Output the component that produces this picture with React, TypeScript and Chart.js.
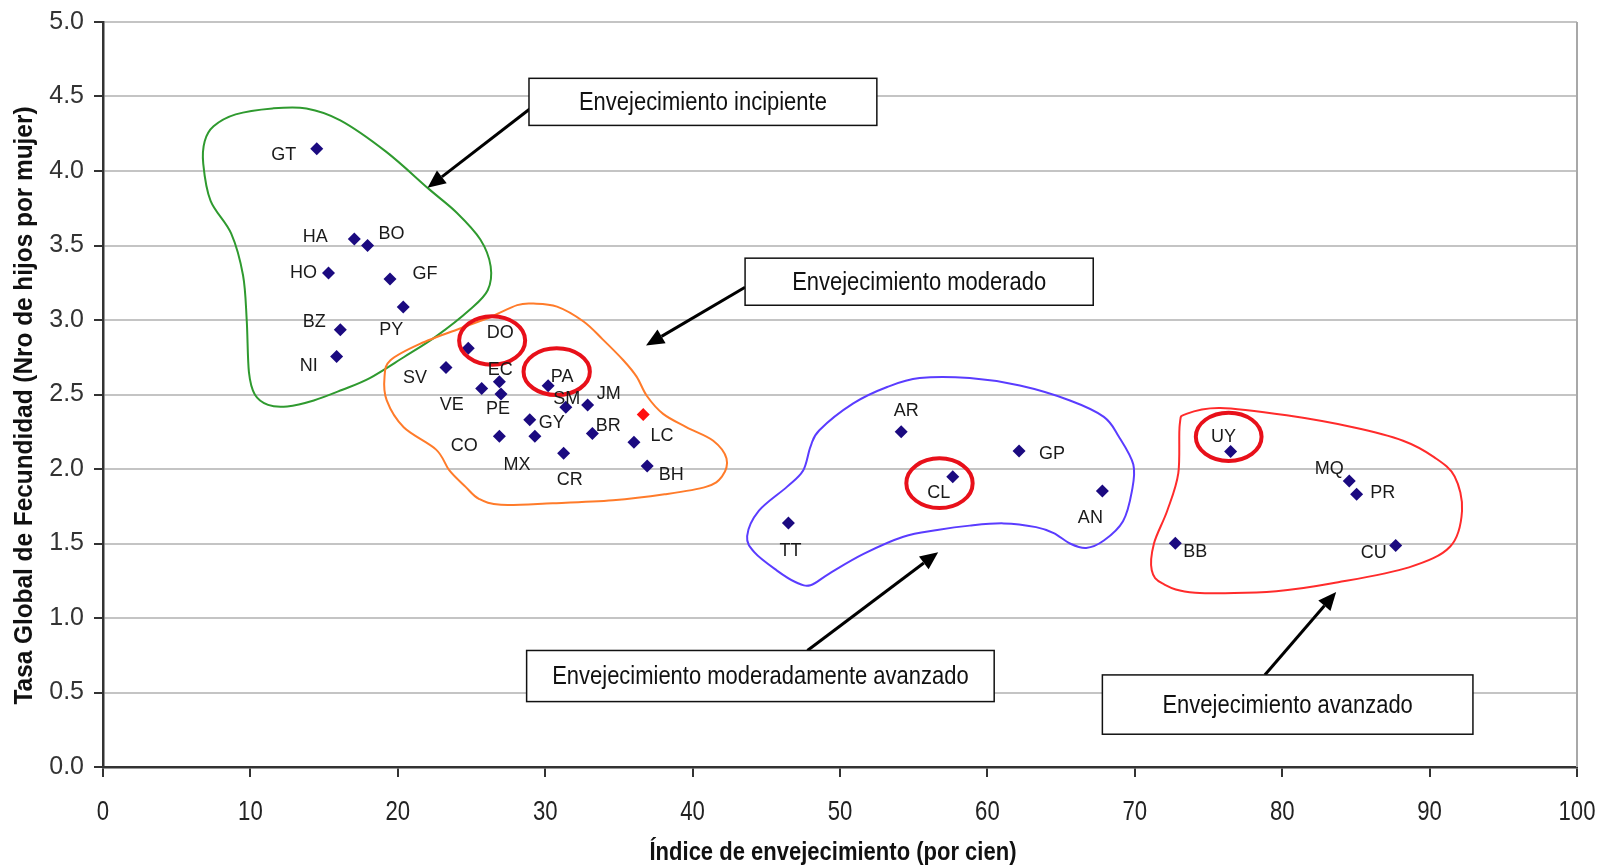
import React, { useEffect, useRef } from 'react';
import { Chart, registerables } from 'chart.js';
Chart.register(...registerables);

// ---- data ----
const codes = ['GT','HA','BO','HO','GF','PY','BZ','NI','DO','SV','EC','VE','PE','PA','SM','JM','GY','CO','MX','BR','LC','CR','BH','AR','GP','CL','AN','TT','UY','MQ','PR','BB','CU'];
const agingIndex = [14.5,17.05,17.95,15.3,19.47,20.37,16.1,15.85,24.78,23.27,26.89,25.69,27.0,30.2,31.4,32.88,28.95,26.89,29.3,33.2,36.02,31.25,36.92,54.15,62.15,57.65,67.8,46.5,76.5,84.55,85.05,72.75,87.7];
const fertility = [4.15,3.544,3.5,3.315,3.275,3.087,2.935,2.755,2.81,2.682,2.585,2.54,2.504,2.558,2.415,2.43,2.33,2.22,2.22,2.239,2.18,2.106,2.02,2.25,2.12,1.948,1.853,1.638,2.118,1.92,1.83,1.502,1.487];
const highlightX = [36.65];
const highlightY = [2.365];

const xTitle = 'Índice de envejecimiento (por cien)';
const yTitle = 'Tasa Global de Fecundidad (Nro de hijos por mujer)';

// ---- annotations (data coordinates) ----
const greenBlob = [[6.9,4.2],[7.5,4.3],[9.0,4.38],[11.5,4.42],[13.8,4.42],[16.1,4.34],[19.2,4.13],[22.1,3.88],[24.0,3.72],[25.6,3.54],[26.3,3.36],[26.1,3.2],[24.9,3.07],[22.6,2.89],[20.4,2.75],[18.1,2.61],[16.2,2.53],[14.3,2.46],[12.5,2.42],[11.2,2.43],[10.3,2.5],[9.9,2.65],[9.75,3.0],[9.5,3.3],[8.7,3.58],[7.3,3.8],[6.8,4.05]];
const orangeBlob = [[26.3,3.02],[28.1,3.1],[29.2,3.11],[30.8,3.09],[32.6,2.99],[33.9,2.87],[35.3,2.73],[36.2,2.62],[36.9,2.49],[38.0,2.37],[39.6,2.28],[41.4,2.19],[42.3,2.07],[42.0,1.95],[40.9,1.88],[38.1,1.83],[34.6,1.79],[30.5,1.77],[27.0,1.76],[25.5,1.8],[24.6,1.88],[23.5,1.99],[22.6,2.13],[20.4,2.28],[19.25,2.46],[19.1,2.62],[19.5,2.73],[21.5,2.84],[24.4,2.95]];
const blueBlob = [[50.9,2.44],[53.2,2.55],[55.4,2.61],[58.8,2.61],[62.2,2.56],[65.6,2.46],[67.9,2.35],[68.9,2.22],[69.9,2.03],[69.8,1.85],[69.2,1.65],[67.9,1.52],[66.7,1.47],[65.6,1.5],[64.5,1.57],[63.3,1.61],[61.1,1.635],[58.8,1.62],[56.6,1.59],[54.3,1.545],[51.6,1.43],[49.3,1.3],[48.0,1.22],[47.0,1.24],[45.7,1.32],[44.2,1.44],[43.7,1.55],[44.5,1.72],[46.4,1.88],[47.5,1.99],[48.0,2.15],[48.6,2.26]];
const redBlob = [[73.5,2.37],[75.8,2.41],[80.3,2.36],[84.8,2.28],[88.2,2.19],[90.3,2.08],[91.7,1.95],[92.2,1.72],[91.4,1.48],[88.6,1.34],[83.8,1.24],[79.6,1.18],[74.1,1.17],[71.9,1.23],[71.15,1.32],[71.3,1.5],[72.2,1.72],[72.95,1.97],[73.05,2.3]];
const rings = [
  { x: 26.4, y: 2.862, rx: 2.24, ry: 0.163 },
  { x: 30.78, y: 2.653, rx: 2.25, ry: 0.157 },
  { x: 56.75, y: 1.905, rx: 2.25, ry: 0.167 },
  { x: 76.37, y: 2.216, rx: 2.23, ry: 0.162 },
];
const groupBoxes = [
  { text: 'Envejecimiento incipiente', x0: 28.9, x1: 52.5, y0: 4.622, y1: 4.306 },
  { text: 'Envejecimiento moderado', x0: 43.56, x1: 67.18, y0: 3.415, y1: 3.099 },
  { text: 'Envejecimiento moderadamente avanzado', x0: 28.74, x1: 60.46, y0: 0.782, y1: 0.439 },
  { text: 'Envejecimiento avanzado', x0: 67.8, x1: 92.94, y0: 0.618, y1: 0.22 },
];
const arrows = [
  { x0: 28.95, y0: 4.416, x1: 22.02, y1: 3.887 },
  { x0: 43.56, y0: 3.22, x1: 36.84, y1: 2.829 },
  { x0: 47.79, y0: 0.782, x1: 56.66, y1: 1.442 },
  { x0: 78.82, y0: 0.618, x1: 83.66, y1: 1.174 },
];

// label offsets in pixels relative to each point
const labelOffsets: Record<string, [number, number]> = {
  GT: [-33, 6], HA: [-39, -2], BO: [24, -11], HO: [-25, 0], GF: [35, -5], PY: [-12, 23], BZ: [-26, -8], NI: [-28, 10],
  DO: [32, -15], SV: [-31, 11], EC: [1, -12], VE: [-30, 16], PE: [-3, 15], PA: [14, -9], SM: [1, -8], JM: [21, -11],
  GY: [22, 3], CO: [-35, 10], MX: [-18, 29], BR: [16, -7], LC: [28, -6], CR: [6, 27], BH: [24, 9], AR: [5, -21],
  GP: [33, 3], CL: [-14, 16], AN: [-12, 27], TT: [2, 28], UY: [-7, -14], MQ: [-20, -12], PR: [26, -1], BB: [20, 9], CU: [-22, 8],
};

const SANS = "'Liberation Sans', Arial, sans-serif";
const NARROW_SCALE = 0.82;

function drawText(ctx: CanvasRenderingContext2D, text: string, x: number, y: number, font: string, opts: { scaleX?: number; width?: number; rotate?: number; color?: string }) {
  ctx.save();
  ctx.font = font;
  ctx.fillStyle = opts.color || '#111';
  ctx.textAlign = 'center';
  ctx.textBaseline = 'middle';
  let sx = opts.scaleX ?? 1;
  if (opts.width) sx = opts.width / ctx.measureText(text).width;
  ctx.translate(x, y);
  if (opts.rotate) ctx.rotate(opts.rotate);
  ctx.scale(sx, 1);
  ctx.fillText(text, 0, 0);
  ctx.restore();
}

function smoothClosed(ctx: CanvasRenderingContext2D, pts: number[][]) {
  const n = pts.length;
  ctx.beginPath();
  ctx.moveTo(pts[0][0], pts[0][1]);
  for (let i = 0; i < n; i++) {
    const p0 = pts[(i - 1 + n) % n], p1 = pts[i], p2 = pts[(i + 1) % n], p3 = pts[(i + 2) % n];
    const c1x = p1[0] + (p2[0] - p0[0]) / 6, c1y = p1[1] + (p2[1] - p0[1]) / 6;
    const c2x = p2[0] - (p3[0] - p1[0]) / 6, c2y = p2[1] - (p3[1] - p1[1]) / 6;
    ctx.bezierCurveTo(c1x, c1y, c2x, c2y, p2[0], p2[1]);
  }
  ctx.closePath();
}

const annotationPlugin = {
  id: 'groupsAnnot',
  beforeDatasetsDraw(chart: any) {
    const { ctx, scales: { x, y }, chartArea } = chart;
    ctx.save();
    ctx.strokeStyle = '#a8a8a8';
    ctx.lineWidth = 2;
    ctx.beginPath();
    ctx.moveTo(chartArea.right, chartArea.top);
    ctx.lineTo(chartArea.right, chartArea.bottom);
    ctx.stroke();
    const blobs: [number[][], string][] = [
      [greenBlob, '#2f9a2f'], [orangeBlob, '#ff7b2a'], [blueBlob, '#5a3cff'], [redBlob, '#ff2b2b'],
    ];
    ctx.lineWidth = 2;
    for (const [pts, col] of blobs) {
      const px = pts.map((p) => [x.getPixelForValue(p[0]), y.getPixelForValue(p[1])]);
      ctx.strokeStyle = col;
      smoothClosed(ctx, px);
      ctx.stroke();
    }
    ctx.restore();
  },
  afterDatasetsDraw(chart: any) {
    const { ctx, scales: { x, y } } = chart;
    ctx.save();
    ctx.strokeStyle = '#e8101a';
    ctx.lineWidth = 4;
    for (const r of rings) {
      const cx = x.getPixelForValue(r.x), cy = y.getPixelForValue(r.y);
      const rx = Math.abs(x.getPixelForValue(r.x + r.rx) - cx);
      const ry = Math.abs(y.getPixelForValue(r.y + r.ry) - cy);
      ctx.beginPath();
      ctx.ellipse(cx, cy, rx, ry, 0, 0, Math.PI * 2);
      ctx.stroke();
    }
    const meta = chart.getDatasetMeta(0);
    meta.data.forEach((el: any, i: number) => {
      const code = codes[i];
      const off = labelOffsets[code] || [0, -14];
      drawText(ctx, code, el.x + off[0], el.y + off[1], `18px ${SANS}`, { color: '#1a1a1a' });
    });
    ctx.strokeStyle = '#000';
    ctx.fillStyle = '#000';
    ctx.lineWidth = 3;
    for (const a of arrows) {
      const x0 = x.getPixelForValue(a.x0), y0 = y.getPixelForValue(a.y0);
      const x1 = x.getPixelForValue(a.x1), y1 = y.getPixelForValue(a.y1);
      const ang = Math.atan2(y1 - y0, x1 - x0);
      const hl = 18, hw = 8;
      const bx = x1 - hl * Math.cos(ang), by = y1 - hl * Math.sin(ang);
      ctx.beginPath();
      ctx.moveTo(x0, y0);
      ctx.lineTo(bx, by);
      ctx.stroke();
      ctx.beginPath();
      ctx.moveTo(x1, y1);
      ctx.lineTo(bx + hw * Math.sin(ang), by - hw * Math.cos(ang));
      ctx.lineTo(bx - hw * Math.sin(ang), by + hw * Math.cos(ang));
      ctx.closePath();
      ctx.fill();
    }
    for (const b of groupBoxes) {
      const l = x.getPixelForValue(b.x0), r = x.getPixelForValue(b.x1);
      const t = y.getPixelForValue(b.y0), btm = y.getPixelForValue(b.y1);
      ctx.fillStyle = '#fff';
      ctx.fillRect(l, t, r - l, btm - t);
      ctx.strokeStyle = '#111';
      ctx.lineWidth = 1.5;
      ctx.strokeRect(l, t, r - l, btm - t);
      drawText(ctx, b.text, (l + r) / 2, (t + btm) / 2 + 1, `26px ${SANS}`, { scaleX: 0.845, color: '#111' });
    }
    ctx.restore();
  },
  afterDraw(chart: any) {
    const { ctx, scales: { x }, chartArea } = chart;
    for (const t of x.ticks) {
      const px = x.getPixelForValue(t.value);
      drawText(ctx, String(t.value), px, chartArea.bottom + 46, `27px ${SANS}`, { scaleX: NARROW_SCALE, color: '#222' });
    }
    drawText(ctx, xTitle, (chartArea.left + chartArea.right) / 2 - 7, chartArea.bottom + 86, `bold 26px ${SANS}`, { width: 367, color: '#111' });
    drawText(ctx, yTitle, 24.5, (chartArea.top + chartArea.bottom) / 2 + 11, `bold 26px ${SANS}`, { width: 598, rotate: -Math.PI / 2, color: '#111' });
  },
};

export default function App() {
  const ref = useRef<HTMLCanvasElement>(null);
  useEffect(() => {
    if (!ref.current) return;
    const chart = new Chart(ref.current, {
      type: 'scatter',
      data: {
        datasets: [
          {
            data: agingIndex.map((v, i) => ({ x: v, y: fertility[i] })),
            pointStyle: 'rectRot',
            pointRadius: 6.5,
            backgroundColor: '#1b0a80',
            borderColor: '#1b0a80',
            borderWidth: 0,
          },
          {
            data: highlightX.map((v, i) => ({ x: v, y: highlightY[i] })),
            pointStyle: 'rectRot',
            pointRadius: 6.5,
            backgroundColor: '#ff1010',
            borderColor: '#ff1010',
            borderWidth: 0,
          },
        ],
      },
      options: {
        animation: false,
        responsive: true,
        maintainAspectRatio: false,
        layout: { padding: { left: 0, top: 22, right: 26, bottom: 0 } },
        plugins: { legend: { display: false }, tooltip: { enabled: false } },
        scales: {
          x: {
            type: 'linear',
            min: 0,
            max: 100,
            afterFit: (s: any) => { s.height = 100; },
            ticks: { display: false, stepSize: 10 },
            grid: { drawOnChartArea: false, drawTicks: true, tickLength: 10, color: '#333', lineWidth: 2 },
            border: { display: true, color: '#333', width: 2.5 },
            title: { display: false },
          },
          y: {
            type: 'linear',
            min: 0,
            max: 5,
            afterFit: (s: any) => { s.width = 103; },
            ticks: { stepSize: 0.5, font: { family: SANS, size: 25, lineHeight: 0.95 }, color: '#333', padding: 10, callback: (v: any) => Number(v).toFixed(1) },
            grid: { color: '#c4c4c4', lineWidth: 2, tickLength: 9, tickColor: '#333', tickWidth: 2 },
            border: { display: true, color: '#333', width: 2.5 },
            title: { display: false },
          },
        },
      },
      plugins: [annotationPlugin],
    });
    return () => chart.destroy();
  }, []);
  return (
    <div style={{ position: 'fixed', left: 0, top: 0, width: 1603, height: 867, background: '#fff' }}>
      <canvas ref={ref} />
    </div>
  );
}
